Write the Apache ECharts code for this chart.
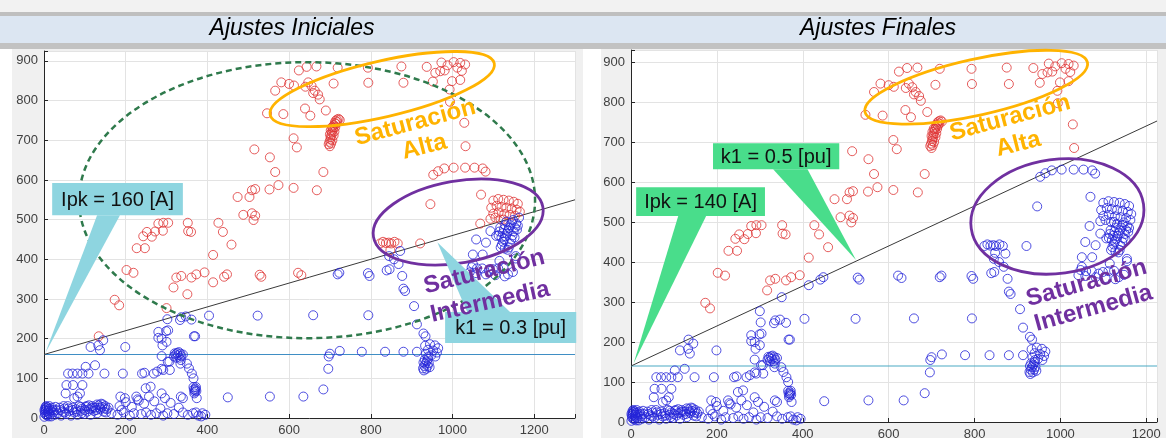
<!DOCTYPE html>
<html>
<head>
<meta charset="utf-8">
<script src="https://cdn.jsdelivr.net/npm/echarts@6/dist/echarts.min.js"></script>
<style>
  html, body { margin: 0; padding: 0; background: #ffffff; }
  #chart { width: 1166px; height: 441px; }
</style>
</head>
<body>
<div id="chart"></div>
<script>
// Differential relay operating points: differential current vs restraint current [A]
const panelTitles = ['Ajustes Iniciales', 'Ajustes Finales'];
const pickupCurrent = [160, 140];   // Ipk [A]
const slopeK1 = [0.3, 0.5];         // k1 [pu]
const xMaxes = [1300, 1225];
const yMaxes = [925, 930];

// High-saturation region
const highRegion = [
  [566,825],[581,846],[600,842],[612,838],[624,876],[643,885],[667,886],[719,883],[793,883],[875,886],
  [937,885],[973,896],[988,889],[1003,897],[1019,895],[1031,891],[1012,883],[1023,875],[981,876],[970,874],
  [958,870],[794,845],[880,845],[952,848],[999,849],[1019,852],[993,828],[994,797],[647,846],[655,837],
  [663,825],[659,819],[671,815],[675,803],[640,835],[709,843],[690,775],[639,780],[652,762],[586,766],
  [546,768],[566,620],[553,657],[515,677],[611,705],[619,682],[611,580],[668,574],[684,620],[574,587],
  [552,576],[509,574],[517,577],[474,557],[503,557],[488,512],[509,516],[517,510],[513,499],[1029,744],
  [1032,685]
];
const redBarCluster = [
  [697,690],[699,696],[701,702],[702,708],[704,714],[705,720],[707,726],[708,732],[710,738],[712,744],
  [714,749],[717,752],[721,754],[724,751],[700,685],[703,692],[706,700],[709,712],[711,722],[713,733],
  [715,741],[718,746],[705,733],[702,725],[700,715]
];
// Knee of the characteristic
const kneeRegion = [
  [134,206],[173,298],[184,284],[202,373],[219,366],[227,428],[247,428],[243,458],[264,457],[252,469],
  [272,470],[291,472],[280,490],[292,492],[304,492],[352,492],[353,471],[360,469],[427,492],[438,469],
  [459,437],[414,411],[317,329],[324,354],[336,358],[361,354],[373,362],[393,367],[300,277],[351,312],
  [414,342],[441,356],[448,362],[528,361],[532,356],[622,366],[630,360]
];
// Intermediate saturation
const midRegion = [
  [719,362],[723,366],[793,365],[797,358],[839,372],[846,375],[659,259],[794,259],[823,440],[830,444],
  [837,441],[844,442],[850,440],[858,444],[866,440],[872,421],[921,440],[848,423],[868,388],[857,400],
  [845,408],[877,358],[884,320],[880,326],[906,282],[913,236],[929,213],[934,206],[946,539],[953,613],
  [965,622],[980,629],[1003,631],[1031,631],[1054,631],[1074,629],[1081,621],[1070,563],[1068,490]
];
const rightCluster = [
  [1100,548],[1112,552],[1125,550],[1138,548],[1150,545],[1160,540],[1095,530],[1108,535],[1120,532],[1132,530],
  [1145,528],[1157,525],[1165,520],[1100,515],[1113,518],[1127,514],[1140,512],[1153,510],[1163,505],[1093,502],
  [1105,505],[1118,500],
  [1118,430],[1121,437],[1124,444],[1127,451],[1130,458],[1133,465],[1136,472],[1139,479],[1142,486],[1145,493],
  [1148,499],[1120,455],[1123,466],[1126,476],[1129,486],[1132,495],[1150,470],[1153,480],[1156,490],[1147,460],
  [1144,450],[1141,440],[1138,430],[1135,424],[1128,427],[1152,455],[1158,475],[1160,485],[1125,500],[1115,470],
  [1117,480],[1113,460],
  [1093,471],[1058,450],[1082,442],[1050,412],[1074,412],[1155,408],[1107,459],[1115,396],[1042,367],[1089,371],
  [1136,362],[1155,402],[1050,388],[1047,380],[1060,377],[1073,377],[1099,375],[1112,377],[1125,378],[1058,365],
  [1082,362],[1105,360],[1128,357],[1148,368]
];
const cluster930 = [
  [933,182],[945,186],[957,183],[965,176],[940,172],[953,170],[962,165],[935,162],[948,158],[958,155],
  [928,125],[931,131],[934,137],[937,143],[940,149],[929,140],[936,124],[939,131],[942,138],[932,147],
  [944,128],[930,120],[941,155]
];
// Low-current region
const lowRegion = [
  [450,52],[553,54],[635,54],[684,72],[696,124],[697,155],[700,162],[724,169],[778,167],[835,167],
  [880,167],[913,167],[404,258],[523,258],
  [145,196],[114,179],[133,183],[137,171],[199,179],[125,133],[102,129],[59,112],[70,112],[82,112],
  [94,112],[109,112],[148,112],[193,112],[240,112],[246,114],[269,112],[277,117],[55,83],[71,83],
  [94,83],[53,62],[88,62],[74,50],[82,54],[249,75],[261,79],[288,62],[187,54],[198,50],
  [226,54],[229,47],[257,54],[296,50],[335,54],[340,50],[374,50],
  [366,100],[362,112],[355,125],[350,137],[335,146],[308,121],[288,124],[292,121],[303,142],[307,142],
  [288,156],[334,137],[300,192],[288,200],[280,217],[304,221],[370,206],[280,202],[299,219],[290,183],
  [302,249],[333,247],[336,254],[347,256],[361,248],[367,206]
];
const lowBlobs = [
  [368,62],[369,66],[370,70],[371,74],[372,78],[367,72],[373,68],[366,78],
  [318,155],[322,160],[326,164],[330,166],[334,162],[336,156],[328,158],[320,163],[324,152],[332,152],[340,160]
];
const originBand = [
  [1,3],[3,10],[4,18],[6,25],[8,6],[9,14],[11,22],[13,30],[15,9],[16,18],[18,4],[20,26],[23,14],[26,8],
  [30,20],[34,12],[38,26],[42,6],[46,16],[50,24],[54,10],[58,30],[62,18],[66,6],[70,26],[74,14],[78,22],
  [82,8],[86,30],[90,18],[94,24],[98,10],[102,28],[106,16],[110,22],[114,8],[118,30],[122,18],[126,26],
  [130,12],[134,32],[138,22],[142,28],[146,16],[150,30],[154,22],[158,26],[140,36],[130,34],[120,26],
  [110,32],[100,20],[90,28],[80,16],[70,20],[60,24],[50,14],[40,20],[148,24],[152,14],[144,34],[136,26],
  [128,20],[116,24],[104,30],[92,12],[48,30],[28,28],[22,20],[12,12],[5,30],[2,15],[4,22],[6,8],[7,28],
  [10,18],[3,26],[12,4],[14,24],[1,20]
];
const bottomRow = [
  [165,12],[180,8],[195,14],[210,6],[220,12],[238,10],[250,14],[262,8],[275,12],[292,6],[302,12],[318,10],
  [340,14],[352,8],[365,12],[378,6],[388,12],[395,8],[372,14],[385,4],[185,30],[200,40],[215,28],[232,44],
  [245,36],[270,42],[285,24],[310,38],[330,26],[190,20]
];

const allPoints = [].concat(highRegion, redBarCluster, kneeRegion, midRegion, rightCluster,
  cluster930, lowRegion, lowBlobs, originBand, bottomRow);

// Layout of the two panels
const grids = [
  { left: 44, top: 51, width: 531, height: 367 },
  { left: 631, top: 50, width: 526, height: 372 }
];
const FONT = "'Liberation Sans', Arial, Helvetica, sans-serif";
const ORANGE = '#ffb300', PURPLE = '#7030a0';
const calloutFill = ['#8ed5e0', '#49dd8b'];
const deg = d => d * Math.PI / 180;

// Annotations expressed in data coordinates of each panel
const annotations = [
  {
    ellipses: [
      { c: [644, 549], rx: 228, ry: 138, rot: 0, color: '#2f7a4c', width: 2.5, dash: [6, 4] },
      { c: [828, 829], rx: 115, ry: 28, rot: 13, color: ORANGE, width: 2.8 },
      { c: [1014, 494], rx: 86, ry: 41, rot: 10, color: PURPLE, width: 2.8 }
    ],
    texts: [
      { t: 'Saturación', p: [909, 744], rot: 15, color: ORANGE },
      { t: 'Alta', p: [931, 683], rot: 14, color: ORANGE },
      { t: 'Saturación', p: [1078, 368], rot: 14, color: PURPLE },
      { t: 'Intermedia', p: [1092, 292], rot: 12.5, color: PURPLE }
    ],
    callouts: [
      { label: 'Ipk = ' + pickupCurrent[0] + ' [A]', box: [[20, 592], [340, 511]], wedge: [[130, 511], [186, 511], [3, 163]] },
      { label: 'k1 = ' + slopeK1[0] + ' [pu]', box: [[982, 267], [1303, 189]], wedge: [[1036, 267], [1141, 267], [963, 443]] }
    ]
  },
  {
    ellipses: [
      { c: [804, 837], rx: 114, ry: 28, rot: 12.6, color: ORANGE, width: 2.8 },
      { c: [993, 514], rx: 87, ry: 57, rot: 8, color: PURPLE, width: 2.8 }
    ],
    texts: [
      { t: 'Saturación', p: [883, 760], rot: 15, color: ORANGE },
      { t: 'Alta', p: [902, 694], rot: 14, color: ORANGE },
      { t: 'Saturación', p: [1061, 347], rot: 15.5, color: PURPLE },
      { t: 'Intermedia', p: [1077, 284], rot: 15.5, color: PURPLE }
    ],
    callouts: [
      { label: 'Ipk = ' + pickupCurrent[1] + ' [A]', box: [[12, 587], [312, 515]], wedge: [[110, 515], [175, 515], [6, 146]] },
      { label: 'k1 = ' + slopeK1[1] + ' [pu]', box: [[191, 697], [485, 632]], wedge: [[331, 632], [411, 632], [524, 405]] }
    ]
  }
];

function axisCommon(step) {
  return {
    type: 'value', min: 0,
    axisLine: { show: true, onZero: false, lineStyle: { color: '#262626', width: 1 } },
    axisTick: { show: true, inside: true, length: 4, lineStyle: { color: '#262626' } },
    axisLabel: { color: '#404040', fontSize: 13, fontFamily: FONT, margin: 6,
      formatter: v => (v % step === 0 ? String(v) : '') },
    splitLine: { show: true, lineStyle: { color: '#e3e3e3', width: 1 } }
  };
}

const xAxes = grids.map((g, i) => Object.assign(axisCommon(200), { gridIndex: i, max: xMaxes[i], interval: 200 }));
const yAxes = grids.map((g, i) => Object.assign(axisCommon(100), { gridIndex: i, max: yMaxes[i], interval: 100 }));

const series = [];
grids.forEach((g, i) => {
  const ipk = pickupCurrent[i], k1 = slopeK1[i], xm = xMaxes[i];
  const operate = [], restrain = [];
  allPoints.forEach(p => (p[1] > ipk + k1 * p[0] ? operate : restrain).push(p));
  series.push({
    type: 'line', xAxisIndex: i, yAxisIndex: i, symbol: 'none', silent: true, z: 2,
    data: [[0, ipk], [xm, ipk]],
    lineStyle: { color: i === 0 ? '#3f8ec4' : '#4aaac4', width: 1.2 }
  });
  series.push({
    type: 'line', xAxisIndex: i, yAxisIndex: i, symbol: 'none', silent: true, z: 2,
    data: [[0, ipk], [xm, ipk + k1 * xm]],
    lineStyle: { color: '#3a3a3a', width: 1 }
  });
  series.push({
    type: 'scatter', xAxisIndex: i, yAxisIndex: i, silent: true, z: 3,
    symbol: 'circle', symbolSize: 9, data: operate,
    itemStyle: { color: 'rgba(0,0,0,0)', borderColor: '#de3434', borderWidth: 1 }
  });
  series.push({
    type: 'scatter', xAxisIndex: i, yAxisIndex: i, silent: true, z: 4,
    symbol: 'circle', symbolSize: 9, data: restrain,
    itemStyle: { color: 'rgba(0,0,0,0)', borderColor: '#2323d8', borderWidth: 1 }
  });
});

// Page background, title band and panel frames
const backdrop = [
  { type: 'rect', z: -20, shape: { x: 0, y: 0, width: 1166, height: 12 }, style: { fill: '#f2f2f2' } },
  { type: 'rect', z: -20, shape: { x: 0, y: 12, width: 1166, height: 4 }, style: { fill: '#bfbfbf' } },
  { type: 'rect', z: -20, shape: { x: 0, y: 16, width: 1166, height: 27 }, style: { fill: '#dce6f2' } },
  { type: 'rect', z: -20, shape: { x: 0, y: 43, width: 1166, height: 6 }, style: { fill: '#c2c2c2' } },
  { type: 'rect', z: -20, shape: { x: 12, y: 49, width: 571, height: 389 }, style: { fill: '#f0f0f0' } },
  { type: 'rect', z: -20, shape: { x: 601, y: 49, width: 565, height: 389 }, style: { fill: '#f0f0f0' } },
  { type: 'rect', z: -19, shape: { x: grids[0].left, y: grids[0].top, width: grids[0].width, height: grids[0].height }, style: { fill: '#ffffff' } },
  { type: 'rect', z: -19, shape: { x: grids[1].left, y: grids[1].top, width: grids[1].width, height: grids[1].height }, style: { fill: '#ffffff' } },
  { type: 'text', z: 10, x: 292, y: 29, style: { text: panelTitles[0], font: 'italic 23px ' + FONT, fill: '#000', align: 'center', verticalAlign: 'middle' } },
  { type: 'text', z: 10, x: 878, y: 29, style: { text: panelTitles[1], font: 'italic 23px ' + FONT, fill: '#000', align: 'center', verticalAlign: 'middle' } }
];

const chart = echarts.init(document.getElementById('chart'));
chart.setOption({
  animation: false,
  backgroundColor: '#ffffff',
  grid: grids.map(g => Object.assign({ containLabel: false }, g)),
  xAxis: xAxes,
  yAxis: yAxes,
  series: series,
  graphic: { elements: backdrop }
});

// Overlay annotations, positioned through each panel's own scales
const overlay = [];
annotations.forEach((a, gi) => {
  const px = p => chart.convertToPixel({ gridIndex: gi }, p);
  a.ellipses.forEach(e => {
    const c = px(e.c);
    overlay.push({
      type: 'ellipse', z: 100, x: c[0], y: c[1], rotation: deg(e.rot),
      shape: { cx: 0, cy: 0, rx: e.rx, ry: e.ry },
      style: { fill: 'none', stroke: e.color, lineWidth: e.width, lineDash: e.dash || null }
    });
  });
  a.callouts.forEach(co => {
    const p0 = px(co.box[0]), p1 = px(co.box[1]);
    overlay.push({
      type: 'polygon', z: 101,
      shape: { points: co.wedge.map(px) },
      style: { fill: calloutFill[gi] }
    });
    overlay.push({
      type: 'rect', z: 102,
      shape: { x: p0[0], y: p0[1], width: p1[0] - p0[0], height: p1[1] - p0[1] },
      style: { fill: calloutFill[gi] }
    });
    overlay.push({
      type: 'text', z: 103, x: (p0[0] + p1[0]) / 2, y: (p0[1] + p1[1]) / 2 + 1,
      style: { text: co.label, font: '20px ' + FONT, fill: '#111', align: 'center', verticalAlign: 'middle' }
    });
  });
  a.texts.forEach(t => {
    const c = px(t.p);
    overlay.push({
      type: 'text', z: 104, x: c[0], y: c[1], rotation: deg(t.rot),
      style: { text: t.t, font: 'bold 24px ' + FONT, fill: t.color, align: 'center', verticalAlign: 'middle' }
    });
  });
});

chart.setOption({ graphic: { elements: backdrop.concat(overlay) } });
</script>
</body>
</html>
